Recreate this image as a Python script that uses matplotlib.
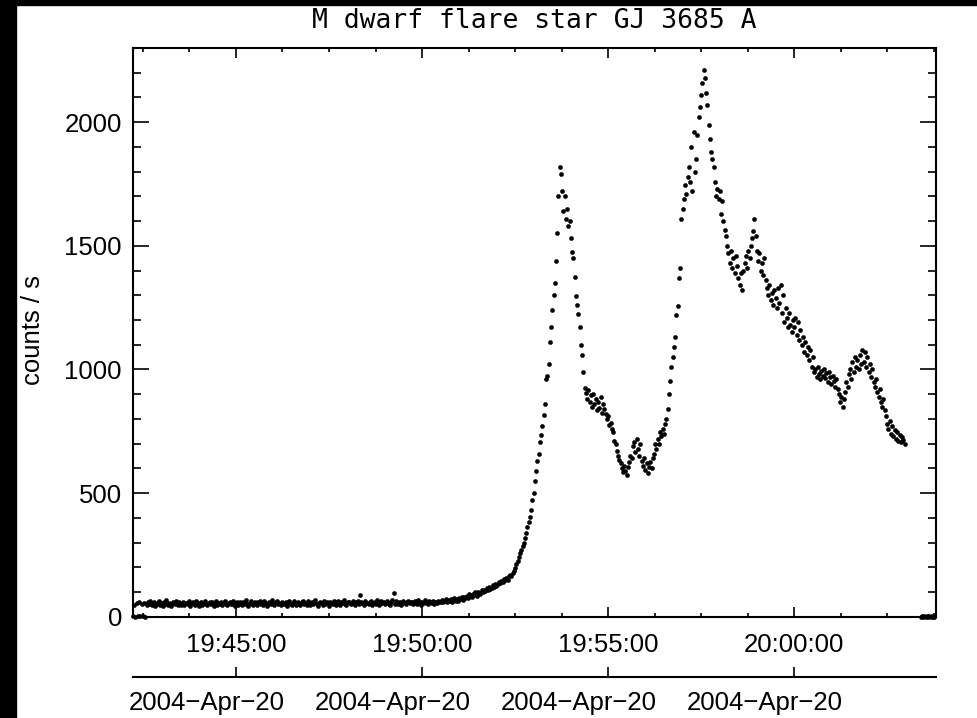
import matplotlib
matplotlib.use("Agg")
import matplotlib.pyplot as plt
import matplotlib.transforms as mtransforms
from matplotlib.ticker import MultipleLocator, FixedLocator, FuncFormatter, NullLocator, NullFormatter
from matplotlib.patches import Rectangle
import numpy as np

plt.rcParams['font.family'] = ['Liberation Sans', 'DejaVu Sans']

# light curve, seconds after 19:40:00, one sample every 2 s
t_start, t_step = 134, 2

# quiescent level (19:42:14 - 19:50:28)
base = [2, 48, 0, 55, 4, 61, 1, 50, 3, 57, 0, 46, 58, 52, 63, 47, 55, 60, 44, 53,
        57, 62, 49, 54, 45, 59, 51, 66, 48, 56, 53, 43, 60, 55, 50, 64, 47, 58, 52, 49,
        61, 46, 55, 57, 50, 63, 44, 54, 59, 51, 48, 62, 56, 45, 53, 60, 49, 57, 65, 52,
        47, 55, 61, 50, 58, 43, 54, 62, 49, 56, 52, 60, 46, 57, 64, 51, 48, 55, 59, 53,
        50, 63, 45, 56, 58, 49, 61, 54, 47, 59, 52, 66, 50, 44, 57, 62, 53, 48, 60, 55,
        46, 58, 64, 51, 55, 49, 62, 57, 45, 53, 60, 50, 67, 54, 48, 58, 63, 52, 56, 47,
        61, 54, 50, 59, 45, 57, 65, 52, 49, 56, 62, 48, 55, 60, 53, 46, 58, 64, 51, 57,
        49, 62, 55, 47, 60, 53, 58, 66, 50, 45, 57, 61, 54, 48, 63, 52, 59, 56, 44, 60,
        55, 51, 64, 58, 47, 62, 53, 49, 60, 56, 67, 52, 48, 58, 61, 54, 50, 63, 57, 46,
        59, 65, 53, 86, 61, 56, 48, 62, 55, 55, 51, 58, 64, 49, 57, 60, 53, 66, 47, 58,
        62, 54, 59, 50, 57, 63, 52, 48, 60, 67, 95, 51, 64, 58, 53, 61, 49, 56, 65, 57,
        52, 60, 63, 55, 58, 58, 50, 64, 57, 53, 66, 59, 49, 61, 56, 68, 54, 60, 51, 63,
        58, 55, 65, 52, 61, 57, 64, 59]

# slow pre-flare rise (19:50:30 - 19:52:28)
slow_rise = [60, 66, 58, 63, 70, 61, 67, 64, 72, 59, 68, 74, 65, 71, 63, 76,
             70, 78, 67, 81, 74, 85, 77, 90, 82, 79, 93, 86, 98, 84, 101, 95, 92, 106, 99, 110,
             104, 115, 108, 121, 112, 118, 127, 122, 134, 126, 131, 142, 137, 145, 139, 152,
             148, 158, 150, 163, 170, 165, 178, 186]

# impulsive rise of first flare (19:52:30 - 19:53:42)
rise1 = [198, 212, 226, 243, 258, 270, 287, 299, 318, 340, 362, 381, 405, 432, 470,
         500, 548, 590, 628, 660, 705, 735, 770, 815, 860, 960, 975, 1020, 1110, 1170,
         1240, 1300, 1350, 1440, 1550, 1700, 1820]

# decay of first flare (19:53:44 - 19:55:18)
decay1 = [1790, 1720, 1640, 1700, 1610, 1650, 1580, 1600, 1530, 1475,
          1450, 1375, 1295, 1260, 1225, 1170, 1100, 1060, 990, 925,
          905, 880, 915, 870, 895, 850, 900, 860, 880, 835,
          870, 845, 890, 825, 860, 840, 820, 800, 810, 775,
          785, 760, 745, 710, 700, 670, 650, 635]

# minimum between flares (19:55:20 - 19:56:36)
trough = [620, 600, 585, 610, 590, 575, 605, 625, 650, 640,
          690, 705, 665, 720, 680, 650, 700, 630, 610, 640,
          595, 620, 580, 605, 625, 600, 640, 660, 700, 680,
          720, 700, 745, 730, 760, 740, 780, 800, 840]

# second flare rise and peak (19:56:38 - 19:57:40)
rise2 = [900, 955, 1010, 1050, 1090, 1130, 1220, 1255, 1370, 1410,
         1610, 1650, 1690, 1745, 1710, 1780, 1820, 1760, 1900, 1720,
         1960, 1800, 1850, 1950, 2020, 2060, 2110, 2160, 2210, 2180,
         2120, 2070]

# decay of second flare (19:57:42 - 19:59:58)
decay2 = [1990, 1930, 1880, 1850, 1820, 1760, 1700, 1730, 1690, 1720,
          1630, 1680, 1600, 1565, 1540, 1500, 1470, 1430, 1480, 1410,
          1450, 1390, 1460, 1420, 1370, 1340, 1390, 1320, 1400, 1430,
          1460, 1410, 1480, 1450, 1500, 1530, 1560, 1610, 1540, 1480,
          1440, 1470, 1400, 1430, 1380, 1450, 1360, 1330, 1300, 1340,
          1280, 1310, 1260, 1320, 1290, 1250, 1330, 1270, 1340, 1230,
          1300, 1190, 1250, 1210, 1170, 1230, 1180, 1150, 1200]

# late decay (20:00:00 - 20:02:58)
late = [1170, 1210, 1140, 1190, 1120, 1160, 1100, 1130, 1070, 1110,
        1060, 1090, 1040, 1080, 1010, 1050, 990, 1000, 970, 1010,
        980, 960, 995, 975, 1000, 965, 985, 950, 990, 970,
        940, 975, 955, 930, 960, 920, 900, 870, 890, 850,
        880, 910, 950, 930, 980, 1000, 960, 1030, 990, 1050,
        1010, 1040, 1000, 1060, 1020, 1080, 1030, 1070, 1010, 1050,
        990, 1020, 970, 1000, 950, 930, 960, 910, 890, 920,
        870, 850, 880, 835, 810, 780, 760, 790, 740, 770,
        730, 755, 720, 745, 710, 735, 705, 725, 715, 700]

# empty bins at the end of the exposure
tail_t = [1404, 1406, 1408, 1410, 1412, 1414, 1416, 1418, 1420, 1422, 1424, 1426]
tail_counts = [0, 2, 0, 1, 0, 3, 0, 1, 0, 2, 0, 0]

major_t = [300, 600, 900, 1200]
date_label = "2004\u2212Apr\u221220"

counts = np.array(base + slow_rise + rise1 + decay1 + trough + rise2 + decay2 + late)
t = t_start + t_step * np.arange(len(counts))
t = np.concatenate([t, tail_t])
counts = np.concatenate([counts, tail_counts])

W, H = 977, 718
fig = plt.figure(figsize=(W / 100, H / 100), dpi=100, facecolor='white')
fig.patches.append(Rectangle((0, 0), 16 / W, 1, transform=fig.transFigure,
                             color='black', zorder=10))
fig.patches.append(Rectangle((0, 1 - 5 / H), 1, 5 / H, transform=fig.transFigure,
                             color='black', zorder=10))

left, right, top, bottom = 133, 935.6, 48, 616.7
ax = fig.add_axes([left / W, 1 - bottom / H, (right - left) / W, (bottom - top) / H])
ax.plot(t, counts, 'o', ms=2.9, color='black', mec='black', mew=0.4, clip_on=False)
ax.set_xlim(134, 1428)
ax.set_ylim(0, 2300)

fs = 18.5


def hms(v, pos):
    s = int(round(v)) + 19 * 3600 + 40 * 60
    return f"{s // 3600:02d}:{s % 3600 // 60:02d}:{s % 60:02d}"


ax.xaxis.set_major_locator(FixedLocator(major_t))
ax.xaxis.set_minor_locator(MultipleLocator(75))
ax.xaxis.set_major_formatter(FuncFormatter(hms))
ax.yaxis.set_major_locator(MultipleLocator(500))
ax.yaxis.set_minor_locator(MultipleLocator(100))

ax.tick_params(axis='both', which='both', direction='in', top=True, right=True,
               labelsize=fs, width=1.2)
ax.tick_params(axis='x', which='major', length=7.5, pad=12)
ax.tick_params(axis='x', which='minor', length=3.2)
ax.tick_params(axis='y', which='major', length=11.5, pad=8)
ax.tick_params(axis='y', which='minor', length=5.8)
for sp in ax.spines.values():
    sp.set_linewidth(1.5)

fig.text(534 / W, 1 - 21 / H, "M dwarf flare star GJ 3685 A", ha='center', va='center',
         fontsize=fs + 0.5, family=['DejaVu Sans Mono', 'DejaVu Sans'])
ax.set_ylabel("counts / s", fontsize=fs)
ax.yaxis.set_label_coords(-0.11, 0.504)

# second time axis carrying the date
sec = ax.secondary_xaxis(-(677 - bottom) / (bottom - top))
sec.xaxis.set_major_locator(FixedLocator(major_t))
sec.xaxis.set_minor_locator(NullLocator())
sec.xaxis.set_major_formatter(NullFormatter())
sec.tick_params(direction='in', length=7.5, width=1.2)
sec.spines['bottom'].set_linewidth(1.5)

# date labels sit a little left of their ticks, as in the original
shift = mtransforms.ScaledTranslation(-29 / 100, 0, fig.dpi_scale_trans)
trans = mtransforms.blended_transform_factory(ax.transData, ax.transAxes) + shift
for tx in major_t:
    ax.text(tx, -(703 - bottom) / (bottom - top), date_label, transform=trans,
            ha='center', va='center', fontsize=fs, clip_on=False)

fig.savefig("out.png", dpi=100, facecolor='white')
